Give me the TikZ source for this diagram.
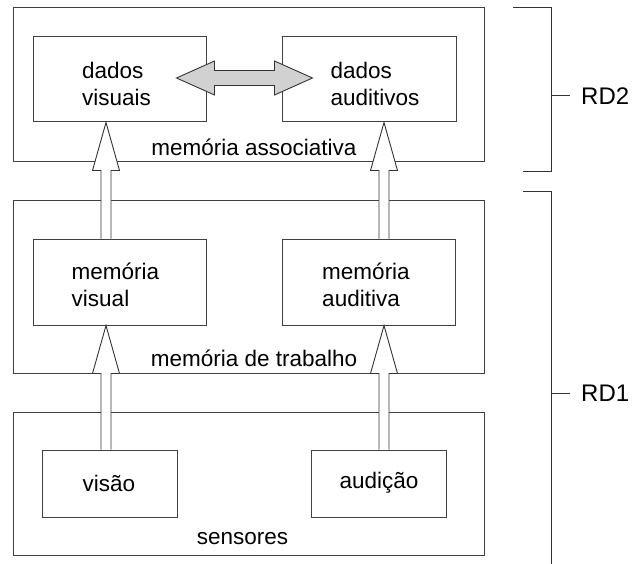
\documentclass[tikz,border=0pt]{standalone}
\usepackage{fontspec}
\setmainfont{Liberation Sans}
\usetikzlibrary{calc}

\tikzset{
  frame/.style={draw=black!75, line width=1pt, minimum width=#1, inner sep=0pt},
  cell/.style={draw=black!75, fill=white, line width=1pt, inner sep=0pt, align=left},
  label/.style={inner sep=0pt, font=\fontsize{22.5}{27.5}\selectfont},
  hollow/.style={draw=black!80, fill=white, line width=0.9pt, line join=miter},
  shared/.style={draw=black!80, fill=black!18, line width=0.9pt, line join=miter},
  brace/.style={draw=black!80, line width=1pt},
}

% upward hollow arrow from #1 (tail) to #2 (tip)
\newcommand\hollowup[2]{%
  \path[hollow] let \p1=(#1), \p2=(#2) in
    (\x1-5pt,\y1) -- (\x1-5pt,\y2-48pt) -- (\x1-13.5pt,\y2-48pt) -- (\x1,\y2)
    -- (\x1+13.5pt,\y2-48pt) -- (\x1+5pt,\y2-48pt) -- (\x1+5pt,\y1);
}

\begin{document}
\begin{tikzpicture}[x=1pt, y=-1pt]
  \useasboundingbox (0,0) rectangle (639,564);

  % layers
  \node[frame=471pt, minimum height=154pt] (assoc) at (248.5,85) {};
  \node[frame=471pt, minimum height=173pt] (work) at (248.5,286.5) {};
  \node[frame=471pt, minimum height=143pt] (sens) at (248.5,483.5) {};

  % inner units
  \node[cell, minimum width=173pt, minimum height=85pt] (dv) at (119.5,79.5) {};
  \node[cell, minimum width=174pt, minimum height=85pt] (da) at (369,79.5) {};
  \node[cell, minimum width=173pt, minimum height=86pt] (mv) at (119.5,282) {};
  \node[cell, minimum width=173pt, minimum height=86pt] (ma) at (369,282) {};
  \node[cell, minimum width=135pt, minimum height=67pt] (vis) at (109.5,483.5) {};
  \node[cell, minimum width=135pt, minimum height=67pt] (aud) at (378.5,483.5) {};

  % unit texts
  \node[label, align=left] (dvt) at (116.5,84) {dados\\visuais};
  \node[label, align=left] (dat) at (375,84) {dados\\auditivos};
  \node[label, align=left] (mvt) at (115.5,285) {memória\\visual};
  \node[label, align=left] (mat) at (366,285) {memória\\auditiva};
  \node[label] (vist) at (109,483) {visão};
  \node[label] (audt) at (379,483) {audição};

  % layer names
  \node[label] (assocl) at (254,147) {memória associativa};
  \node[label] (workl) at (254,358) {memória de trabalho};
  \node[label] (sensl) at (242.5,539) {sensores};

  % columns of the upward flows
  \coordinate (colL) at (106,0);
  \coordinate (colR) at (384,0);

  \hollowup{vis.north -| colL}{mv.south -| colL}
  \hollowup{mv.north -| colL}{dv.south -| colL}
  \hollowup{aud.north -| colR}{ma.south -| colR}
  \hollowup{ma.north -| colR}{da.south -| colR}

  % exchange between visual and auditory data
  \coordinate (xl) at ([xshift=-30pt, yshift=1.5pt]dv.east);
  \coordinate (xr) at ([xshift=31pt, yshift=1.5pt]da.west);
  \path[shared] let \p1=(xl), \p2=(xr) in
    (\x1,\y1) -- (\x1+38pt,\y1+17pt) -- (\x1+38pt,\y1+7.5pt)
    -- (\x2-38pt,\y1+7.5pt) -- (\x2-38pt,\y1+17pt) -- (\x2,\y1)
    -- (\x2-38pt,\y1-17pt) -- (\x2-38pt,\y1-7.5pt)
    -- (\x1+38pt,\y1-7.5pt) -- (\x1+38pt,\y1-17pt) -- cycle;

  % level brackets
  \node[inner sep=0pt, anchor=west, font=\fontsize{24}{28}\selectfont] (rd2) at (581,96) {RD2};
  \node[inner sep=0pt, anchor=west, font=\fontsize{24}{28}\selectfont] (rd1) at (581,393) {RD1};

  \coordinate (b2t) at (551,8);
  \coordinate (b2b) at (551,172);
  \draw[brace] (513,8) -- (b2t) -- (b2b) -- (523,172);
  \draw[brace] (rd2.west -| b2t) -- ([xshift=-11pt]rd2.west);

  \coordinate (b1t) at (551,191);
  \coordinate (b1b) at (551,564);
  \draw[brace] (523,191) -- (b1t) -- (b1b);
  \draw[brace] (rd1.west -| b1t) -- ([xshift=-11pt]rd1.west);
\end{tikzpicture}
\end{document}
